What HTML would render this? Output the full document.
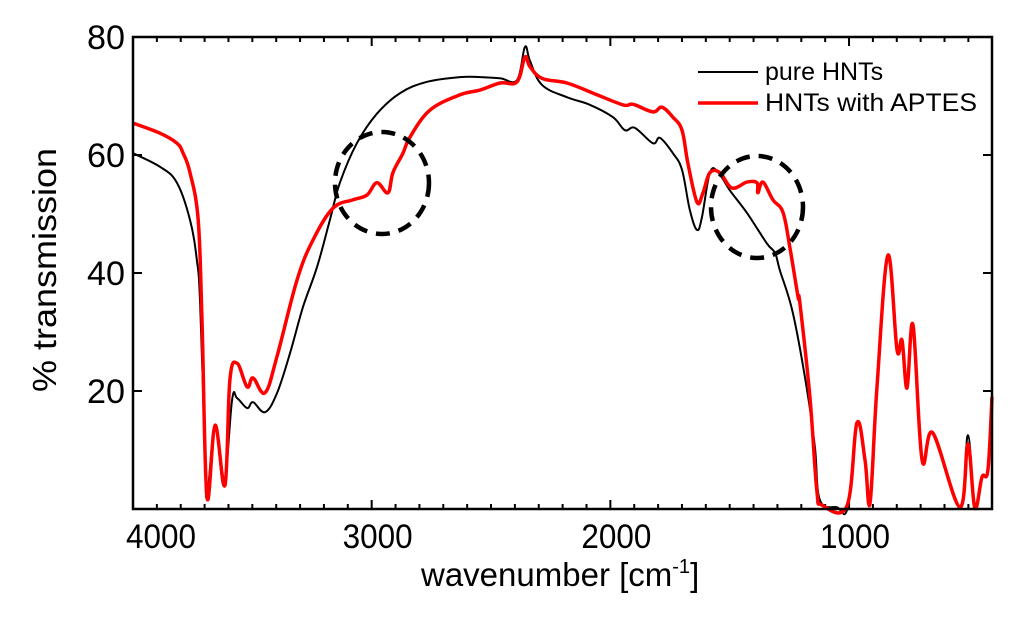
<!DOCTYPE html>
<html><head><meta charset="utf-8"><style>
html,body{margin:0;padding:0;background:#fff;}
svg{display:block;font-family:"Liberation Sans",Arial,sans-serif;}
</style></head><body>
<svg id="chart" width="1024" height="621" viewBox="0 0 1024 621"></svg>
<script>
const xTicks=[4000,3000,2000,1000];
const yTicks=[20,40,60,80];
const pureWn=[4000,3887,3816,3761,3732,3719,3698,3690,3656,3619,3585,3564,3522,3497,3447,3397,3342,3288,3229,3175,3133,3062,2978,2881,2768,2630,2546,2462,2391,2358,2337,2287,2182,2085,1989,1939,1897,1822,1792,1738,1700,1667,1637,1616,1583,1549,1499,1428,1344,1310,1290,1235,1176,1143,1122,1051,1005,967,933,912,883,837,799,778,757,732,694,649,536,502,473,443,418,401];
const pureT=[60.3,58,55.3,49,42,35,9.5,2,14.2,4,18.5,18.8,17.1,18.1,16.4,19.6,26.4,34.2,41,49,55.3,62,67,70.5,72.4,73.2,73.2,73,72.7,78.3,76,71.9,69.8,68.5,66.4,64.2,64.6,62,62.9,60.3,57.5,50.7,47.3,49.5,57,57.1,54,50.2,45,43.4,40.5,33.2,20.2,10.5,1.5,0.3,0.3,14.6,8.3,1,20.7,43,27,28.6,20.5,31.2,8.3,12.9,0.3,12.5,0.2,5.4,6.6,19];
const aptesWn=[4000,3887,3816,3790,3761,3727,3711,3690,3656,3615,3594,3564,3522,3497,3447,3397,3313,3246,3162,3078,3020,2978,2932,2911,2869,2840,2756,2630,2546,2462,2391,2358,2337,2287,2182,2073,1947,1905,1822,1784,1738,1700,1675,1637,1612,1583,1541,1491,1428,1386,1382,1361,1319,1277,1248,1214,1206,1164,1135,1114,1009,967,933,912,883,837,799,778,757,732,694,649,536,502,473,443,418,401];
const aptesT=[65.4,63.7,62,60.3,57,49,32,2,14.2,4,21.9,24.7,20.7,22.2,19.7,25.8,38.8,45.6,51,52.4,53.2,55.3,53.6,57,60.3,63,67.6,70.2,71,72.2,72.4,76.6,75,73,72.2,70.5,68.5,68.6,67.3,68.1,66.4,64.2,58.6,52,53.6,57,57,54.4,55.4,55.3,53.6,55.4,52.4,50.3,44.4,36,34.9,19,3.2,0.7,0.5,14.6,8.3,1,20.7,43,27,28.6,20.5,31.2,8.3,12.9,0.3,11,0.2,5.4,6.6,19];

const L=133,R=992,T=37,B=509;
const xMin=401,xMax=4000,yMax=80;
const xs=w=>L+(4000-w)*(R-L)/(xMax-xMin);
const ys=v=>B-v*(B-T)/yMax;
const svg=document.getElementById('chart');
const NS='http://www.w3.org/2000/svg';
function mk(tag,attrs,parent){const e=document.createElementNS(NS,tag);for(const k in attrs)e.setAttribute(k,attrs[k]);(parent||svg).appendChild(e);return e;}

// ticks
const tg=mk('g',{stroke:'#000','stroke-width':2});


for(let w=4000;w>=xMin;w-=100){const x=xs(w);const len=(w%1000===0)?9:5;
 mk('line',{x1:x,y1:B,x2:x,y2:B-len},tg);mk('line',{x1:x,y1:T,x2:x,y2:T+len},tg);}
yTicks.forEach(v=>{const y=ys(v);mk('line',{x1:L,y1:y,x2:L+9,y2:y},tg);mk('line',{x1:R,y1:y,x2:R-9,y2:y},tg);});
xTicks.forEach(w=>{const cx=xs(w)+(w===4000?28:6);
 const t=mk('text',{x:cx-35,y:548,'font-size':34,textLength:70,lengthAdjust:'spacingAndGlyphs'});t.textContent=w;
 
 });
yTicks.forEach(v=>{const t=mk('text',{x:87,y:ys(v)+12,'font-size':34,textLength:38,lengthAdjust:'spacingAndGlyphs'});t.textContent=v;
 
 });

function smoothPath(pts){let d='M'+pts[0][0].toFixed(1)+','+pts[0][1].toFixed(1);
 const k=0.18;
 for(let i=0;i<pts.length-1;i++){const p0=pts[i-1]||pts[i],p1=pts[i],p2=pts[i+1],p3=pts[i+2]||p2;
  const c1x=p1[0]+(p2[0]-p0[0])*k,c1y=p1[1]+(p2[1]-p0[1])*k;
  const c2x=p2[0]-(p3[0]-p1[0])*k,c2y=p2[1]-(p3[1]-p1[1])*k;
  d+=' C'+c1x.toFixed(1)+','+c1y.toFixed(1)+' '+c2x.toFixed(1)+','+c2y.toFixed(1)+' '+p2[0].toFixed(1)+','+p2[1].toFixed(1);}
 return d;}
function line(wn,tv,color,width,name){const pts=wn.map((w,i)=>[xs(w),ys(tv[i])]);
 const e=mk('path',{d:smoothPath(pts),fill:'none',stroke:color,'stroke-width':width,'stroke-linejoin':'round'});
 
 }
line(pureWn,pureT,'#000',2,'pure-hnts-line');
line(aptesWn,aptesT,'#f00',3.5,'hnts-aptes-line');

// circles
const c1=mk('ellipse',{cx:382,cy:183,rx:47,ry:51,fill:'none',stroke:'#000','stroke-width':4.5,'stroke-dasharray':'14 9'});


const c2=mk('ellipse',{cx:757,cy:207,rx:46,ry:51,fill:'none',stroke:'#000','stroke-width':4.5,'stroke-dasharray':'14 9'});



// frame
const fr=mk('rect',{x:L,y:T,width:R-L,height:B-T,fill:'none',stroke:'#000','stroke-width':2.5});



// legend
const lg=mk('g',{});


mk('line',{x1:698,y1:72,x2:758,y2:72,stroke:'#000','stroke-width':2},lg);
mk('line',{x1:698,y1:103,x2:758,y2:103,stroke:'#f00','stroke-width':3.5},lg);
const l1=mk('text',{x:765,y:80,'font-size':25},lg);l1.textContent='pure HNTs';


const l2=mk('text',{x:765,y:111,'font-size':25,textLength:212,lengthAdjust:'spacingAndGlyphs'},lg);l2.textContent='HNTs with APTES';



// axis titles
const xt=mk('text',{x:421,y:586,'font-size':33});
xt.innerHTML='wavenumber [cm<tspan dy="-13" font-size="20">-1</tspan><tspan dy="13">]</tspan>';


const yt=mk('text',{x:0,y:0,'font-size':33,'text-anchor':'middle',textLength:244,lengthAdjust:'spacingAndGlyphs',transform:'translate(56,270) rotate(-90)'});
yt.textContent='% transmission';


</script>
</body></html>
